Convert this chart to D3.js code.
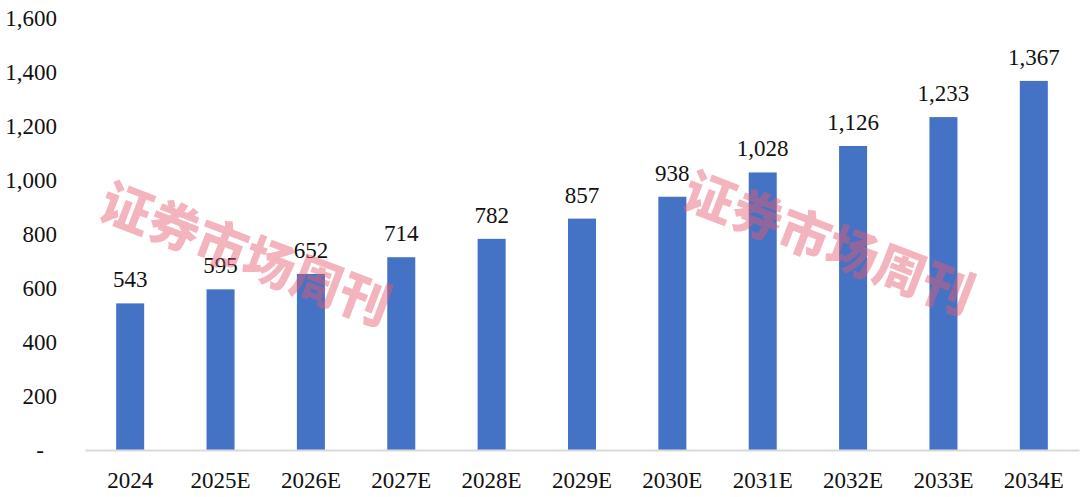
<!DOCTYPE html>
<html>
<head>
<meta charset="utf-8">
<script src="https://cdn.jsdelivr.net/npm/d3@7"></script>
<style>
body { margin: 0; background: #fff; }
</style>
</head>
<body>
<div class="viz"></div>
<script>
var years = ["2024", "2025E", "2026E", "2027E", "2028E", "2029E", "2030E", "2031E", "2032E", "2033E", "2034E"];
var values = [543, 595, 652, 714, 782, 857, 938, 1028, 1126, 1233, 1367];
var yTicks = [0, 200, 400, 600, 800, 1000, 1200, 1400, 1600];
var watermark = "证券市场周刊";

var w = 1080;
var h = 497;
var padLeft = 85, padRight = 1079, padTop = 18, padBottom = 450;
var barcolor = "#4472C4";
var fmt = d3.format(",");
var serif = "Liberation Serif, Times New Roman, serif";

var xScale = d3.scaleBand()
    .domain(years)
    .range([padLeft, padRight])
    .paddingInner(0.69)
    .paddingOuter(0.345);

var yScale = d3.scaleLinear()
    .domain([0, 1600])
    .range([padBottom, padTop]);

var svg = d3.select(".viz")
    .append("svg")
    .attr("width", w)
    .attr("height", h);

//bars
svg.selectAll("rect.bar")
    .data(values)
    .enter()
    .append("rect")
    .attr("class", "bar")
    .attr("x", function(d, i) { return xScale(years[i]); })
    .attr("y", function(d) { return yScale(d); })
    .attr("width", xScale.bandwidth())
    .attr("height", function(d) { return padBottom - yScale(d); })
    .attr("fill", barcolor);

//value labels
svg.selectAll("text.val")
    .data(values)
    .enter()
    .append("text")
    .attr("class", "val")
    .text(function(d) { return fmt(d); })
    .attr("text-anchor", "middle")
    .attr("x", function(d, i) { return xScale(years[i]) + xScale.bandwidth() / 2; })
    .attr("y", function(d) { return yScale(d) - 16; })
    .attr("font-family", serif)
    .attr("font-size", "23px")
    .attr("fill", "#111");

//x axis
var xAxis = d3.axisBottom(xScale).tickSize(0).tickPadding(22);
var gx = svg.append("g")
    .attr("transform", "translate(0," + padBottom + ")")
    .call(xAxis);
gx.select(".domain").attr("stroke", "#d9d9d9").attr("stroke-width", 2);
gx.selectAll("text")
    .attr("font-family", serif)
    .attr("font-size", "23px")
    .attr("fill", "#111");

//y axis
var yAxis = d3.axisLeft(yScale)
    .tickValues(yTicks)
    .tickSize(0)
    .tickPadding(0)
    .tickFormat(function(d) { return d === 0 ? "-" : fmt(d); });
var gy = svg.append("g")
    .attr("transform", "translate(57,0)")
    .call(yAxis);
gy.select(".domain").remove();
gy.selectAll("text")
    .attr("font-family", serif)
    .attr("font-size", "23px")
    .attr("fill", "#111")
    .attr("dx", function(d) { return d === 0 ? "-13" : "0"; });

//watermarks
var marks = [[247, 251], [830, 240]];
svg.selectAll("text.wm")
    .data(marks)
    .enter()
    .append("text")
    .attr("class", "wm")
    .text(watermark)
    .attr("transform", function(d) { return "translate(" + d[0] + "," + d[1] + ") rotate(21)"; })
    .attr("text-anchor", "middle")
    .attr("dominant-baseline", "central")
    .attr("font-family", "Noto Sans CJK SC")
    .attr("font-weight", "900")
    .attr("font-size", "51px")
    .attr("letter-spacing", "0px")
    .attr("fill", "rgb(230,90,110)")
    .attr("opacity", 0.45);
</script>
</body>
</html>
